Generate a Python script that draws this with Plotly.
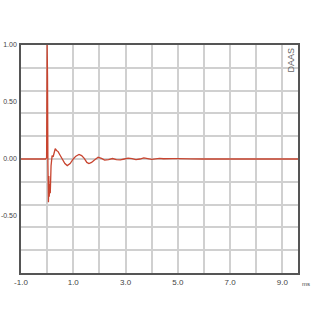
import plotly.graph_objects as go

# impulse response (time in ms, amplitude)
t_ms = [-1.0, -0.06, -0.02, 0.0, 0.015, 0.03, 0.05, 0.065, 0.08, 0.10, 0.12, 0.15,
        0.19, 0.23, 0.27, 0.31, 0.36, 0.42, 0.48, 0.58, 0.68, 0.77, 0.88, 1.0,
        1.1, 1.22, 1.32, 1.42, 1.52, 1.6, 1.7, 1.8, 1.95, 2.08, 2.2, 2.35, 2.5,
        2.65, 2.8, 2.95, 3.1, 3.25, 3.4, 3.55, 3.7, 3.85, 4.0, 4.15, 4.3, 4.45,
        4.6, 4.8, 5.0, 5.2, 5.5, 6.0, 7.0, 8.0, 9.6]
amp = [0.0, 0.0, 0.01, 1.0, 0.72, -0.05, -0.38, -0.15, -0.33, -0.22, -0.3, -0.06,
       0.03, 0.02, 0.06, 0.09, 0.075, 0.065, 0.04, 0.0, -0.04, -0.058, -0.04, 0.0,
       0.025, 0.04, 0.03, 0.005, -0.03, -0.04, -0.03, -0.01, 0.015, 0.005, -0.01, -0.005, 0.004,
       -0.006, -0.008, 0.0, 0.008, 0.004, -0.005, 0.0, 0.01, 0.004, -0.003, 0.002, 0.006, 0.002,
       0.0, 0.003, 0.003, 0.0, 0.001, 0.0, 0.0, 0.0, 0.0]

x_grid = list(range(-1, 10))
x_labels = ["-1.0" if v == -1 else (f"{v}.0" if v % 2 == 1 else "") for v in x_grid]
y_grid = [-0.8, -0.6, -0.4, -0.2, 0.0, 0.2, 0.4, 0.6, 0.8]
y_labels_vals = [-0.5, 0.0, 0.5, 1.0]
y_labels = ["-0.50", "0.00", "0.50", "1.00"]

fig = go.Figure()
fig.add_trace(go.Scatter(x=t_ms, y=amp, mode="lines",
                         line=dict(color="#c8442f", width=1.3), hoverinfo="skip"))

fig.update_layout(
    width=320, height=320,
    margin=dict(l=21, r=22, t=45, b=47, autoexpand=False),
    paper_bgcolor="white", plot_bgcolor="white",
    showlegend=False,
    font=dict(family="Liberation Sans, Arial, sans-serif", size=7, color="#444444"),
)
fig.update_xaxes(
    range=[-1.0, 9.6], tickvals=x_grid, ticktext=x_labels,
    showgrid=True, gridcolor="#d0d0d0", gridwidth=1.5,
    zeroline=False, showline=True, linecolor="#555555", linewidth=1.5, mirror=True,
    ticks="", ticklabelstandoff=1, automargin=False,
    tickfont=dict(size=8),
)
fig.update_yaxes(
    range=[-1.0, 1.0], tickvals=y_labels_vals, ticktext=y_labels,
    showgrid=False, zeroline=False,
    minor=dict(tickvals=y_grid, showgrid=True, gridcolor="#d0d0d0", gridwidth=1.5, ticks=""),
    showline=True, linecolor="#555555", linewidth=1.5, mirror=True,
    ticks="", ticklabelstandoff=1, automargin=False,
    tickfont=dict(size=7),
)
fig.add_annotation(x=1.0, xref="paper", y=-0.025, yref="paper", text="ms",
                   showarrow=False, xanchor="left", yanchor="top", xshift=2,
                   font=dict(size=6, color="#444444"))
fig.add_annotation(x=1.0, xref="paper", y=1.0, yref="paper", text="DAAS",
                   showarrow=False, xanchor="right", yanchor="top", textangle=-90,
                   xshift=-1, yshift=-1,
                   font=dict(size=9, color="#666666"))

fig.write_html("out.html")
